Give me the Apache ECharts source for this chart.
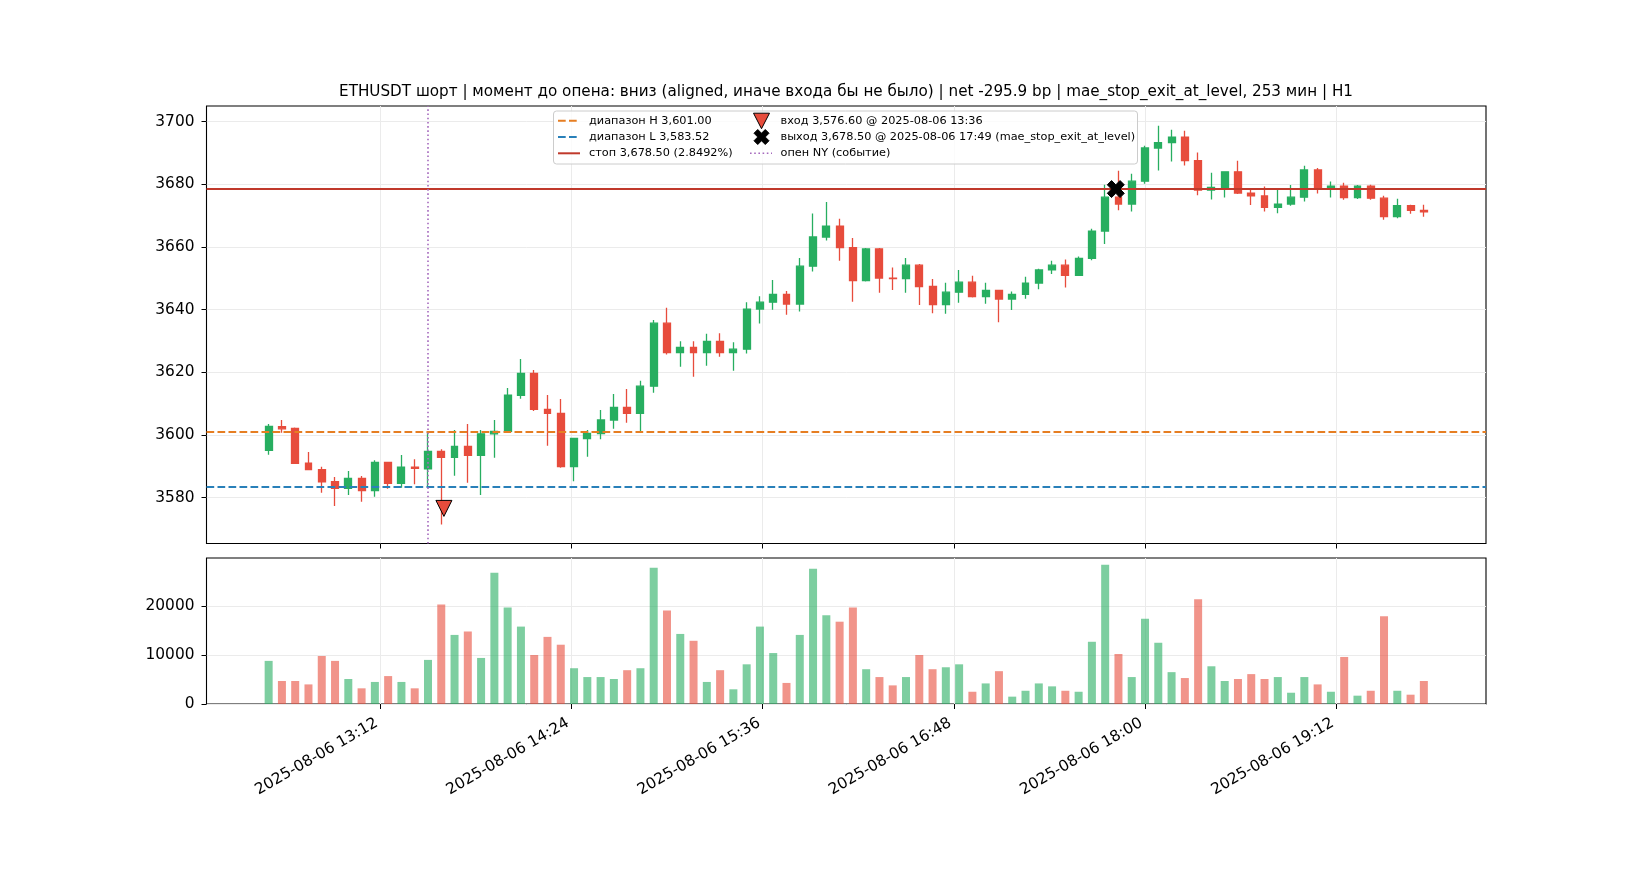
<!DOCTYPE html>
<html><head><meta charset="utf-8">
<script src="https://cdn.jsdelivr.net/npm/echarts@6/dist/echarts.min.js"></script>
<style>html,body{margin:0;padding:0;background:#fff}#c{width:1650px;height:880px}</style>
</head><body><div id="c"></div>
<script>
const dateStr = '2025-08-06';
const times = ['12:30','12:35','12:40','12:45','12:50','12:55',
 '13:00','13:05','13:10','13:15','13:20','13:25','13:30','13:35','13:40','13:45','13:50','13:55',
 '14:00','14:05','14:10','14:15','14:20','14:25','14:30','14:35','14:40','14:45','14:50','14:55',
 '15:00','15:05','15:10','15:15','15:20','15:25','15:30','15:35','15:40','15:45','15:50','15:55',
 '16:00','16:05','16:10','16:15','16:20','16:25','16:30','16:35','16:40','16:45','16:50','16:55',
 '17:00','17:05','17:10','17:15','17:20','17:25','17:30','17:35','17:40','17:45','17:50','17:55',
 '18:00','18:05','18:10','18:15','18:20','18:25','18:30','18:35','18:40','18:45','18:50','18:55',
 '19:00','19:05','19:10','19:15','19:20','19:25','19:30','19:35','19:40','19:45'];
const opens = [3595.1,3602.7,3602.1,3591.0,3589.0,3585.1,3583.0,3586.2,3582.3,3591.3,
 3584.6,3589.8,3589.2,3594.8,3592.9,3596.4,3593.5,3600.4,3601.2,3612.7,
 3619.7,3608.2,3606.9,3589.9,3598.9,3600.5,3604.8,3608.8,3606.9,3615.6,
 3635.7,3626.3,3628.0,3626.3,3629.9,3626.3,3627.4,3640.2,3642.4,3644.9,
 3641.8,3653.9,3663.2,3666.7,3659.8,3649.3,3659.4,3650.1,3649.9,3654.2,
 3647.4,3641.6,3645.6,3648.8,3644.2,3646.2,3643.4,3644.9,3648.5,3652.7,
 3654.2,3651.0,3656.4,3665.1,3675.9,3673.7,3681.0,3691.6,3693.3,3695.1,
 3687.6,3678.2,3679.0,3684.0,3677.2,3676.3,3672.7,3673.7,3675.9,3684.6,
 3678.5,3679.4,3675.8,3679.4,3675.6,3669.7,3673.2,3671.7];
const closes = [3602.8,3602.0,3591.0,3589.0,3585.1,3583.0,3586.2,3582.3,3591.3,3584.6,
 3589.8,3589.4,3594.8,3592.9,3596.4,3593.5,3600.4,3601.2,3612.7,3619.7,
 3608.2,3606.9,3589.9,3598.9,3600.5,3604.8,3608.8,3606.9,3615.6,3635.7,
 3626.3,3628.0,3626.3,3629.9,3626.3,3627.4,3640.2,3642.4,3644.9,3641.8,
 3653.9,3663.2,3666.7,3659.8,3649.3,3659.4,3650.1,3649.9,3654.2,3647.4,
 3641.6,3645.6,3648.8,3644.2,3646.2,3643.4,3644.9,3648.5,3652.7,3654.2,
 3651.0,3656.4,3665.1,3675.9,3673.7,3681.0,3691.6,3693.3,3695.1,3687.6,
 3678.2,3679.0,3684.0,3677.2,3676.3,3672.7,3673.7,3675.9,3684.6,3678.5,
 3679.4,3675.8,3679.4,3675.6,3669.7,3673.2,3671.7,3671.2];
const lows = [3593.7,3600.7,3590.8,3588.9,3581.6,3577.4,3580.9,3578.7,3580.3,3582.9,
 3583.2,3584.3,3583.3,3571.5,3587.0,3584.8,3580.9,3592.8,3601.2,3611.6,
 3607.7,3596.6,3589.6,3585.3,3593.1,3598.7,3602.0,3603.9,3600.8,3613.5,
 3625.7,3621.8,3618.6,3622.1,3625.0,3620.5,3626.0,3635.6,3640.0,3638.4,
 3639.4,3652.2,3662.1,3655.6,3642.5,3649.0,3645.4,3646.3,3645.4,3641.5,
 3638.9,3638.7,3642.2,3643.9,3641.9,3636.0,3639.9,3643.5,3646.5,3651.4,
 3647.1,3650.8,3655.8,3661.0,3671.7,3671.3,3680.2,3684.4,3687.3,3686.0,
 3676.5,3675.2,3675.8,3676.9,3673.4,3671.3,3670.8,3673.2,3674.5,3677.1,
 3675.8,3675.1,3675.3,3675.1,3668.7,3669.2,3670.6,3669.7];
const highs = [3603.5,3604.8,3602.4,3594.6,3589.9,3586.6,3588.5,3586.9,3592.0,3591.3,
 3593.6,3592.3,3600.9,3595.5,3601.6,3603.5,3601.6,3604.8,3615.0,3624.3,
 3620.8,3612.8,3611.5,3598.9,3601.6,3608.0,3613.1,3614.7,3617.3,3636.7,
 3640.6,3629.9,3629.9,3632.3,3632.5,3629.6,3642.4,3644.3,3649.5,3646.0,
 3656.5,3670.7,3674.4,3669.0,3662.9,3659.7,3659.7,3653.5,3656.5,3654.6,
 3649.8,3648.6,3652.7,3650.8,3648.6,3646.2,3645.8,3650.5,3653.1,3655.6,
 3656.0,3657.0,3665.8,3679.9,3684.3,3683.4,3692.3,3698.7,3697.4,3697.1,
 3690.2,3683.7,3684.0,3687.5,3678.8,3679.3,3678.8,3679.8,3685.9,3685.2,
 3680.9,3680.5,3679.8,3679.9,3676.4,3675.4,3673.5,3673.5];
const volumes = [8800,4700,4700,4000,9800,8800,5100,3200,4500,5700,
 4500,3200,9000,20300,14100,14800,9400,26800,19700,15800,
 10000,13700,12100,7300,5500,5500,5100,6900,7300,27800,
 19100,14300,12900,4500,6900,3000,8100,15800,10400,4300,
 14100,27600,18100,16800,19700,7100,5500,3800,5500,10000,
 7100,7500,8100,2500,4200,6700,1500,2700,4200,3600,
 2700,2500,12700,28400,10200,5500,17400,12500,6500,5300,
 21400,7700,4700,5100,6100,5100,5500,2300,5500,4000,
 2500,9600,1700,2700,17900,2700,1900,4700];
const xTickLabels = ['13:12','14:24','15:36','16:48','18:00','19:12'];
const priceTicks = [3580,3600,3620,3640,3660,3680,3700];
const volumeTicks = [0,10000,20000];
const rangeHigh = 3601.00, rangeLow = 3583.52, stopLevel = 3678.50, stopPct = 2.8492;
const entryTime = '13:36', entryPrice = 3576.60;
const exitTime = '17:49', exitPrice = 3678.50, exitReason = 'mae_stop_exit_at_level';
const nyOpenTime = '13:30';
const titleText = 'ETHUSDT шорт | момент до опена: вниз (aligned, иначе входа бы не было) | net -295.9 bp | mae_stop_exit_at_level, 253 мин | H1';

const UP = '#27ae60', DOWN = '#e74c3c';
const UPV = 'rgba(39,174,96,0.6)', DOWNV = 'rgba(231,76,60,0.6)';
const FONT = 'DejaVu Sans';
const TICKFS = 15.4;

function toMin(t){ const p = t.split(':').map(Number); return p[0]*60 + p[1]; }
function fmtTime(v){ const h = Math.floor(v/60 + 1e-9), m = Math.round(v - h*60);
  return dateStr + ' ' + String(h).padStart(2,'0') + ':' + String(m).padStart(2,'0'); }
function fmtPrice(v){ return v.toLocaleString('en-US',{minimumFractionDigits:2, maximumFractionDigits:2}); }

const xTicks = xTickLabels.map(toMin);
const candleData = times.map((t,i)=>[toMin(t), opens[i], closes[i], lows[i], highs[i]]);
const volData = times.map((t,i)=>({value:[toMin(t), volumes[i]],
  itemStyle:{color: closes[i] >= opens[i] ? UPV : DOWNV}}));

const XMIN = 726.6, XMAX = 1208.4;
const GL = 206.5, GW = 1279.5;
const G1T = 106, G1H = 437.5, G2T = 558, G2H = 146;

const xPath = 'path://M0.25,0L0.5,0.25L0.75,0L1,0.25L0.75,0.5L1,0.75L0.75,1L0.5,0.75L0.25,1L0,0.75L0.25,0.5L0,0.25Z';

function xAxisCfg(gi, showLabel){
  return {type:'value', gridIndex:gi, min:XMIN, max:XMAX,
    axisLine:{show:false},
    axisTick:{show:true, length:5, lineStyle:{color:'#000', width:1}, customValues:xTicks},
    axisLabel:{show:showLabel, customValues:xTicks, formatter:fmtTime, rotate:30, margin:16,
      padding:[0,4,0,0], fontSize:TICKFS, fontFamily:FONT, color:'#000'},
    splitLine:{show:true, lineStyle:{color:'#ebebeb', width:1}}};
}
function yAxisCfg(gi, min, max, ticks){
  return {type:'value', gridIndex:gi, min:min, max:max,
    axisLine:{show:false},
    axisTick:{show:true, length:5, lineStyle:{color:'#000', width:1}, customValues:ticks},
    axisLabel:{show:true, customValues:ticks, margin:12, fontSize:TICKFS, fontFamily:FONT, color:'#000',
      formatter:(v)=>String(v)},
    splitLine:{show:true, lineStyle:{color:'#ebebeb', width:1}}};
}

const dashed = [7.7, 3.3];
const option = {
  backgroundColor:'#fff',
  animation:false,
  textStyle:{fontFamily:FONT},
  grid:[
    {left:GL, top:G1T, width:GW, height:G1H, show:true, borderColor:'#000', borderWidth:1.1, backgroundColor:'transparent'},
    {left:GL, top:G2T, width:GW, height:G2H, show:true, borderColor:'#000', borderWidth:1.1, backgroundColor:'transparent'}
  ],
  xAxis:[xAxisCfg(0,false), xAxisCfg(1,true)],
  yAxis:[yAxisCfg(0,3565.4,3705.0,priceTicks), yAxisCfg(1,0,29800,volumeTicks)],
  series:[
    {type:'candlestick', xAxisIndex:0, yAxisIndex:0, data:candleData, encode:{x:0, y:[1,2,3,4]},
      barWidth:7.4, z:3,
      itemStyle:{color:UP, color0:DOWN, borderColor:UP, borderColor0:DOWN, borderWidth:1.3},
      markLine:{silent:true, symbol:['none','none'], label:{show:false}, animation:false,
        data:[
          {yAxis:rangeHigh, lineStyle:{color:'#e67e22', type:dashed, width:2, opacity:1}},
          {yAxis:rangeLow, lineStyle:{color:'#2980b9', type:dashed, width:2, opacity:1}},
          {yAxis:stopLevel, lineStyle:{color:'#c0392b', type:'solid', width:2, opacity:1}},
          {xAxis:toMin(nyOpenTime), lineStyle:{color:'#a569bd', type:[1.6,2.6], width:1.6, opacity:1}}
        ]}},
    {type:'scatter', xAxisIndex:0, yAxisIndex:0, z:10,
      data:[[toMin(entryTime), entryPrice]], symbol:'triangle', symbolRotate:180, symbolSize:[16,16],
      itemStyle:{color:DOWN, borderColor:'#000', borderWidth:1, opacity:1}},
    {type:'scatter', xAxisIndex:0, yAxisIndex:0, z:10,
      data:[[toMin(exitTime), exitPrice]], symbol:xPath, symbolSize:[17,17],
      itemStyle:{color:'#000', borderColor:'#000', borderWidth:1, opacity:1}},
    {type:'bar', xAxisIndex:1, yAxisIndex:1, data:volData, barWidth:8}
  ],
  graphic:[]
};

// title
option.graphic.push({type:'text', x:846, y:92, z:100,
  style:{text:titleText, fontSize:15.2, fontFamily:FONT, fill:'#000', align:'center', verticalAlign:'middle'}});

// legend
const LX = 553.5, LY = 111, LW = 584, LH = 53;
const rows = [120.7, 137.0, 153.3];
const c1h = 558, c1t = 589, c2h = 750, c2t = 780.5, c2m = 761.5;
const lf = 11.3;
const ZL = 200;
option.graphic.push({type:'rect', z:ZL, shape:{x:LX, y:LY, width:LW, height:LH, r:3},
  style:{fill:'rgba(255,255,255,0.8)', stroke:'#cccccc', lineWidth:1}});
const col1 = [
  {t:'диапазон H ' + fmtPrice(rangeHigh), c:'#e67e22', d:dashed},
  {t:'диапазон L ' + fmtPrice(rangeLow), c:'#2980b9', d:dashed},
  {t:'стоп ' + fmtPrice(stopLevel) + ' (' + stopPct.toFixed(4) + '%)', c:'#c0392b', d:null}
];
col1.forEach((it,k)=>{
  option.graphic.push({type:'line', z:ZL+1, shape:{x1:c1h, y1:rows[k], x2:c1h+22, y2:rows[k]},
    style:{stroke:it.c, lineWidth:2, lineDash:it.d}});
  option.graphic.push({type:'text', z:ZL+1, x:c1t, y:rows[k], style:{text:it.t, fontSize:lf, fontFamily:FONT, fill:'#000', verticalAlign:'middle'}});
});
// entry icon
option.graphic.push({type:'polygon', z:ZL+1, shape:{points:[[c2m-8,rows[0]-7.5],[c2m+8,rows[0]-7.5],[c2m,rows[0]+8]]},
  style:{fill:DOWN, stroke:'#000', lineWidth:1}});
option.graphic.push({type:'text', z:ZL+1, x:c2t, y:rows[0], style:{text:'вход ' + fmtPrice(entryPrice) + ' @ ' + dateStr + ' ' + entryTime,
  fontSize:lf, fontFamily:FONT, fill:'#000', verticalAlign:'middle'}});
// exit icon
(function(){
  const s = 15, x0 = c2m - s/2, y0 = rows[1] - s/2;
  const pts = [[0.25,0],[0.5,0.25],[0.75,0],[1,0.25],[0.75,0.5],[1,0.75],[0.75,1],[0.5,0.75],[0.25,1],[0,0.75],[0.25,0.5],[0,0.25]]
    .map(p=>[x0+p[0]*s, y0+p[1]*s]);
  option.graphic.push({type:'polygon', z:ZL+1, shape:{points:pts}, style:{fill:'#000', stroke:'#000', lineWidth:1}});
})();
option.graphic.push({type:'text', z:ZL+1, x:c2t, y:rows[1], style:{text:'выход ' + fmtPrice(exitPrice) + ' @ ' + dateStr + ' ' + exitTime + ' (' + exitReason + ')',
  fontSize:lf, fontFamily:FONT, fill:'#000', verticalAlign:'middle'}});
option.graphic.push({type:'line', z:ZL+1, shape:{x1:c2h, y1:rows[2], x2:c2h+22, y2:rows[2]},
  style:{stroke:'#a569bd', lineWidth:1.6, lineDash:[1.6,2.6]}});
option.graphic.push({type:'text', z:ZL+1, x:c2t, y:rows[2], style:{text:'опен NY (событие)', fontSize:lf, fontFamily:FONT, fill:'#000', verticalAlign:'middle'}});

const chart = echarts.init(document.getElementById('c'), null, {renderer:'canvas'});
chart.setOption(option);
</script>
</body></html>
